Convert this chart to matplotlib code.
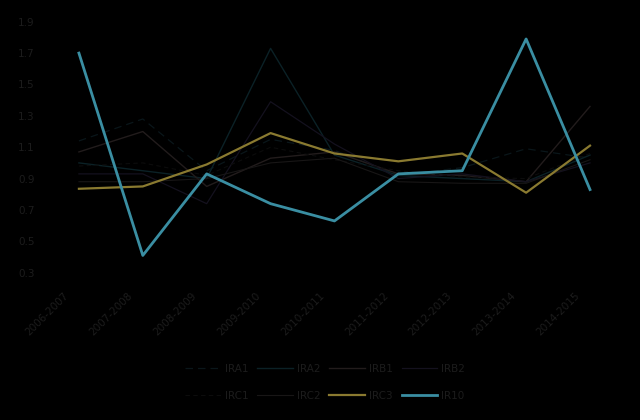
import matplotlib
matplotlib.use("Agg")
import matplotlib.pyplot as plt
from matplotlib.transforms import ScaledTranslation

# seasons on the x axis
seasons = ["2006-2007", "2007-2008", "2008-2009", "2009-2010", "2010-2011",
           "2011-2012", "2012-2013", "2013-2014", "2014-2015"]

# series values (the dark ones are rough estimates)
ira1 = [1.14, 1.28, 0.95, 1.15, 1.08, 0.92, 0.97, 1.09, 1.03]
ira2 = [1.00, 0.95, 0.90, 1.73, 1.05, 0.92, 0.90, 0.88, 1.05]
irb1 = [1.07, 1.20, 0.85, 1.03, 1.07, 0.93, 0.92, 0.88, 1.36]
irb2 = [0.93, 0.93, 0.74, 1.39, 1.12, 0.90, 0.93, 0.88, 1.00]
irc1 = [0.98, 1.00, 0.92, 1.10, 1.02, 0.95, 0.91, 0.90, 1.06]
irc2 = [0.88, 0.88, 0.90, 1.00, 1.03, 0.88, 0.87, 0.87, 1.02]
irc3 = [0.835, 0.85, 0.99, 1.19, 1.06, 1.01, 1.06, 0.81, 1.11]
ir10 = [1.70, 0.41, 0.93, 0.74, 0.63, 0.93, 0.95, 1.79, 0.83]

series = [
    ("IRA1", ira1, "#0a161a", 0.9, (0, (6, 4))),
    ("IRA2", ira2, "#0b2126", 1.0, "-"),
    ("IRB1", irb1, "#221c1c", 1.0, "-"),
    ("IRB2", irb2, "#14111e", 0.9, "-"),
    ("IRC1", irc1, "#0c0c0c", 0.8, (0, (4, 3))),
    ("IRC2", irc2, "#181616", 0.8, "-"),
    ("IRC3", irc3, "#8a7a30", 1.6, "-"),
    ("IR10", ir10, "#3a8ea2", 2.0, "-"),
]

fig = plt.figure(figsize=(6.4, 4.2), dpi=100, facecolor="black")
ax = fig.add_axes([0.0734, 0.3507, 0.8984, 0.5976], facecolor="black")

x = list(range(len(seasons)))
lines = {}
for name, vals, col, lw, ls in series:
    lines[name], = ax.plot(x, vals, color=col, lw=lw, ls=ls, label=name)

ax.set_xlim(-0.5, len(seasons) - 0.5)
ax.set_ylim(0.3, 1.9)
ax.set_yticks([0.3, 0.5, 0.7, 0.9, 1.1, 1.3, 1.5, 1.7, 1.9])
ax.set_yticklabels(["0.3", "0.5", "0.7", "0.9", "1.1", "1.3", "1.5", "1.7", "1.9"])
ax.set_xticks(x)
ax.set_xticklabels(seasons, rotation=45, ha="right", rotation_mode="anchor")

tick_col = "#1c1c1c"
ax.tick_params(axis="y", length=0, pad=9, labelsize=7.5, labelcolor=tick_col)
ax.tick_params(axis="x", length=0, pad=9, labelsize=7.5, labelcolor=tick_col)
shift = ScaledTranslation(-11 / 72, -4 / 72, fig.dpi_scale_trans)
for lab in ax.get_xticklabels():
    lab.set_transform(lab.get_transform() + shift)
for s in ax.spines.values():
    s.set_visible(False)

# matplotlib fills legend columns first, so reorder to read row by row
order = ["IRA1", "IRC1", "IRA2", "IRC2", "IRB1", "IRC3", "IRB2", "IR10"]
leg = fig.legend([lines[n] for n in order], order, loc="center",
                 bbox_to_anchor=(0.508, 0.09), ncol=4, frameon=False,
                 fontsize=7.5, handlelength=3.4, handletextpad=0.4,
                 columnspacing=0.85, labelspacing=1.6)
for t in leg.get_texts():
    t.set_color(tick_col)

fig.savefig("out.png", dpi=100, facecolor="black")
